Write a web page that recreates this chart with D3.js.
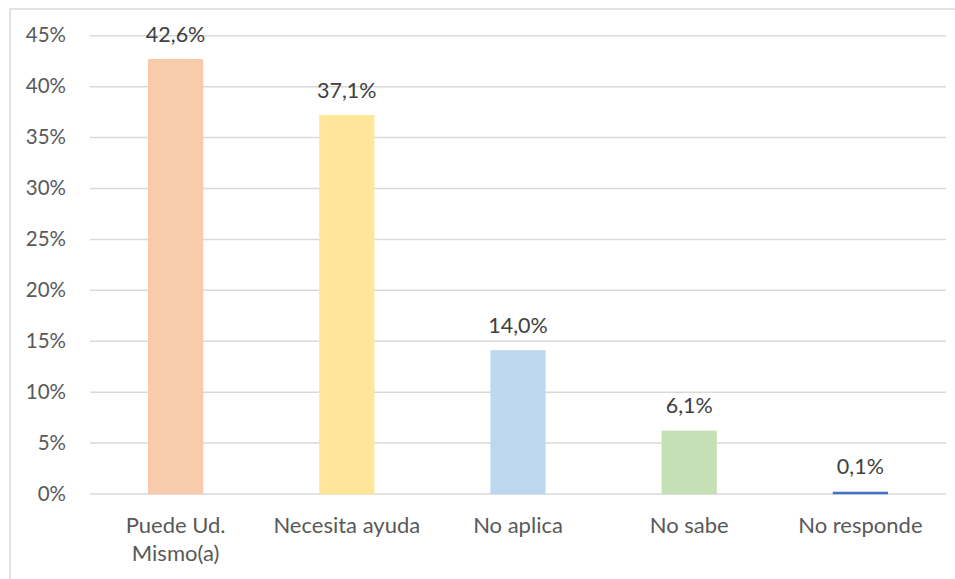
<!DOCTYPE html>
<html><head><meta charset="utf-8">
<script src="https://cdn.jsdelivr.net/npm/d3@7"></script>
<style>body{margin:0;background:#fff}svg{display:block}</style>
</head><body><svg id="c" width="955" height="579"></svg>
<script>
const categories = ["Puede Ud. Mismo(a)", "Necesita ayuda", "No aplica", "No sabe", "No responde"];
const values = [42.6, 37.1, 14.0, 6.1, 0.1];
const colors = ["#F8CBAD", "#FFE699", "#BDD7EE", "#C5E0B4", "#4472C4"];
const yTicks = [0, 5, 10, 15, 20, 25, 30, 35, 40, 45];

const svg = d3.select("#c");
const font = "Lato, 'Liberation Sans', sans-serif";
const x0 = 90, x1 = 946, yBase = 493.5, yTop = 35.3;

svg.append("rect").attr("x", 10).attr("y", 9).attr("width", 960).attr("height", 600)
  .attr("fill", "none").attr("stroke", "#d9d9d9").attr("stroke-width", 1.5);

const x = d3.scaleBand().domain(categories).range([x0, x1]).paddingInner(0.686).paddingOuter(0.343);
const y = d3.scaleLinear().domain([0, 45]).range([yBase, yTop]);

const gy = svg.append("g").attr("transform", `translate(${x0},0)`)
  .call(d3.axisLeft(y).tickValues(yTicks).tickSize(-(x1 - x0)).tickPadding(24).tickFormat(d => d + "%"));
gy.select(".domain").remove();
gy.selectAll(".tick line").attr("stroke", "#d9d9d9").attr("stroke-width", 1.5);
gy.selectAll(".tick text").attr("fill", "#595959").attr("font-family", font).attr("font-size", 20.5);

svg.append("g").selectAll("rect").data(values).join("rect")
  .attr("x", (d, i) => x(categories[i]))
  .attr("width", x.bandwidth())
  .attr("y", d => y(d))
  .attr("height", d => yBase - y(d))
  .attr("fill", (d, i) => colors[i])
  .attr("stroke", (d, i) => colors[i])
  .attr("stroke-width", 1.5);

svg.append("g").selectAll("text").data(values).join("text")
  .attr("x", (d, i) => x(categories[i]) + x.bandwidth() / 2)
  .attr("y", d => y(d) - 18)
  .attr("text-anchor", "middle")
  .attr("fill", "#404040").attr("font-family", font).attr("font-size", 21.5)
  .text(d => d.toFixed(1).replace(".", ",") + "%");

const labels = {"Puede Ud. Mismo(a)": ["Puede Ud.", "Mismo(a)"]};
const gx = svg.append("g");
categories.forEach(c => {
  const lines = labels[c] || [c];
  const t = gx.append("text")
    .attr("x", x(c) + x.bandwidth() / 2).attr("y", 533)
    .attr("text-anchor", "middle")
    .attr("fill", "#595959").attr("font-family", font).attr("font-size", 22);
  lines.forEach((l, i) => t.append("tspan").attr("x", x(c) + x.bandwidth() / 2).attr("dy", i ? 28 : 0).text(l));
});
</script></body></html>
